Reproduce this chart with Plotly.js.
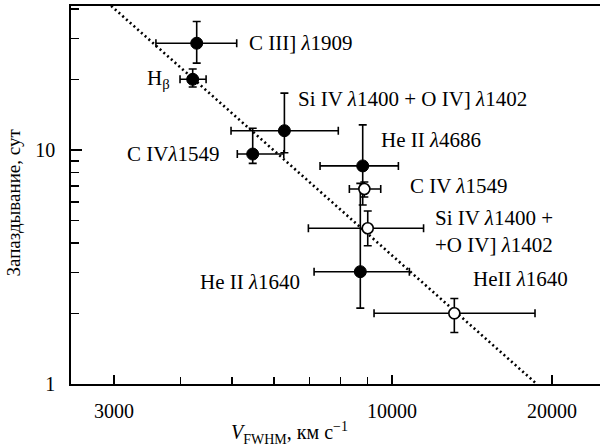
<!DOCTYPE html>
<html>
<head>
<meta charset="utf-8">
<script src="https://cdn.plot.ly/plotly-3.0.1.min.js"></script>
<style>html,body{margin:0;padding:0;background:#fff;overflow:hidden}#chart{width:600px;height:448px}</style>
</head>
<body>
<div id="chart"></div>
<script>
// Filled points (black)
var filledNames = ["C III] λ1909", "Hβ", "Si IV λ1400 + O IV] λ1402", "C IVλ1549", "He II λ4686", "He II λ1640"];
var filledX    = [4292, 4218, 6275, 5470, 8809, 8718];
var filledXlo  = [3597, 3993, 4980, 5117, 7323, 7136];
var filledXhi  = [5104, 4470, 7925, 6258, 10281, 10782];
var filledY    = [28.6, 20.05, 12.09, 9.61, 8.55, 3.02];
var filledYlo  = [23.5, 18.6, 9.74, 8.77, 5.82, 2.11];
var filledYhi  = [35.4, 22.2, 17.5, 12.38, 12.8, 7.2];

// Open points (white)
var openNames = ["C IV λ1549", "Si IV λ1400 + O IV] λ1402", "HeII λ1640"];
var openX    = [8872, 9003, 13100];
var openXlo  = [8314, 6962, 9252];
var openXhi  = [9524, 11466, 18580];
var openY    = [6.81, 4.63, 2.005];
var openYlo  = [6.3, 3.90, 1.66];
var openYhi  = [7.3, 5.49, 2.32];

// Dotted fit line endpoints
var fitX = [2963, 18720];
var fitY = [41.3, 1.0];

// Tick labels
var xTickVals = [3000, 10000, 20000];
var xTickText = ["3000", "10000", "20000"];
var xMinor = [4000, 5000, 6000, 7000, 8000, 9000];
var yTickVals = [1, 10];
var yTickText = ["1", "10"];
var yMinor = [2, 3, 4, 5, 6, 7, 8, 9, 20, 30, 40];

function plus(v, hi){ return v.map(function(a,i){ return hi[i]-a; }); }
function minus(v, lo){ return v.map(function(a,i){ return a-lo[i]; }); }

var FONT = "'Liberation Serif', 'Times New Roman', Times, serif";

var errStyle = {color: "#000", thickness: 1.6, width: 4};

var traces = [
  {x: fitX, y: fitY, mode: "lines", line: {color: "#000", width: 2.6, dash: "2px,3px"}, hoverinfo: "skip"},
  {x: filledX, y: filledY, mode: "markers", type: "scatter",
   marker: {color: "#000", size: 12, line: {color: "#000", width: 1}},
   error_x: Object.assign({type: "data", symmetric: false, array: plus(filledX, filledXhi), arrayminus: minus(filledX, filledXlo)}, errStyle),
   error_y: Object.assign({type: "data", symmetric: false, array: plus(filledY, filledYhi), arrayminus: minus(filledY, filledYlo)}, errStyle)},
  {x: openX, y: openY, mode: "markers", type: "scatter",
   marker: {color: "#fff", size: 11, line: {color: "#000", width: 1.6}},
   error_x: Object.assign({type: "data", symmetric: false, array: plus(openX, openXhi), arrayminus: minus(openX, openXlo)}, errStyle),
   error_y: Object.assign({type: "data", symmetric: false, array: plus(openY, openYhi), arrayminus: minus(openY, openYlo)}, errStyle)}
];

// label offsets (pixels) relative to points
var filledLab = [
  {xs: 50, ys: 0, anchor: "left", text: "C III] <i>λ</i>1909"},
  {xs: -21, ys: 0, anchor: "right", text: "H<sub>β</sub>"},
  {xs: 12, ys: 32, anchor: "left", text: "Si IV <i>λ</i>1400 + O IV] <i>λ</i>1402"},
  {xs: -31, ys: 0, anchor: "right", text: "C IV<i>λ</i>1549"},
  {xs: 16, ys: 26, anchor: "left", text: "He II <i>λ</i>4686"},
  {xs: -58, ys: -10, anchor: "right", text: "He II <i>λ</i>1640"}
];
var openLab = [
  {xs: 44, ys: 3, anchor: "left", text: "C IV <i>λ</i>1549"},
  {xs: 65, ys: -3, anchor: "left", text: "Si IV <i>λ</i>1400 +<br>+O IV] <i>λ</i>1402"},
  {xs: 17, ys: 34, anchor: "left", text: "HeII <i>λ</i>1640"}
];

var annotations = [];
function addLabels(xs, ys, labs){
  labs.forEach(function(l, i){
    annotations.push({x: Math.log10(xs[i]), y: Math.log10(ys[i]), xref: "x", yref: "y",
      text: l.text, showarrow: false, xanchor: l.anchor, yanchor: "middle", align: "left",
      xshift: l.xs, yshift: l.ys, font: {family: FONT, size: 21, color: "#000"}});
  });
}
addLabels(filledX, filledY, filledLab);
addLabels(openX, openY, openLab);

annotations.push({xref: "paper", yref: "paper", x: (289-71)/529, y: -(433-384)/378,
  text: "<i>V</i><sub>FWHM</sub>, км с<sup>−1</sup>", showarrow: false, xanchor: "center", yanchor: "middle",
  font: {family: FONT, size: 20, color: "#000"}});
annotations.push({xref: "paper", yref: "paper", x: (14-71)/529, y: 0.48,
  text: "Запаздывание, сут", textangle: -90, showarrow: false, xanchor: "center", yanchor: "middle",
  font: {family: FONT, size: 19, color: "#000"}});

var layout = {
  width: 600, height: 448,
  margin: {l: 71, r: 0, t: 6, b: 64, pad: 0},
  paper_bgcolor: "#fff", plot_bgcolor: "#fff",
  showlegend: false,
  font: {family: FONT, size: 20, color: "#000"},
  xaxis: {type: "log", range: [Math.log10(2490), Math.log10(24620)], autorange: false,
    showgrid: false, zeroline: false, showline: true, linecolor: "#000", linewidth: 1.8, mirror: true,
    ticks: "inside", ticklen: 9, tickwidth: 1.6, tickcolor: "#000",
    tickmode: "array", tickvals: xTickVals, ticktext: xTickText, ticklabelstandoff: 8,
    minor: {tickmode: "array", tickvals: xMinor, ticks: "inside", ticklen: 7, tickwidth: 1.6, tickcolor: "#000", showgrid: false},
    tickfont: {family: FONT, size: 20, color: "#000"}, automargin: false},
  yaxis: {type: "log", range: [0, 1.6154], autorange: false,
    showgrid: false, zeroline: false, showline: true, linecolor: "#000", linewidth: 1.8, mirror: false,
    ticks: "inside", ticklen: 11, tickwidth: 1.6, tickcolor: "#000",
    tickmode: "array", tickvals: yTickVals, ticktext: yTickText, ticklabelstandoff: 10,
    minor: {tickmode: "array", tickvals: yMinor, ticks: "inside", ticklen: 8, tickwidth: 1.6, tickcolor: "#000", showgrid: false},
    tickfont: {family: FONT, size: 20, color: "#000"}, automargin: false},
  annotations: annotations
};

Plotly.newPlot("chart", traces, layout, {staticPlot: true, displayModeBar: false});
</script>
</body>
</html>
